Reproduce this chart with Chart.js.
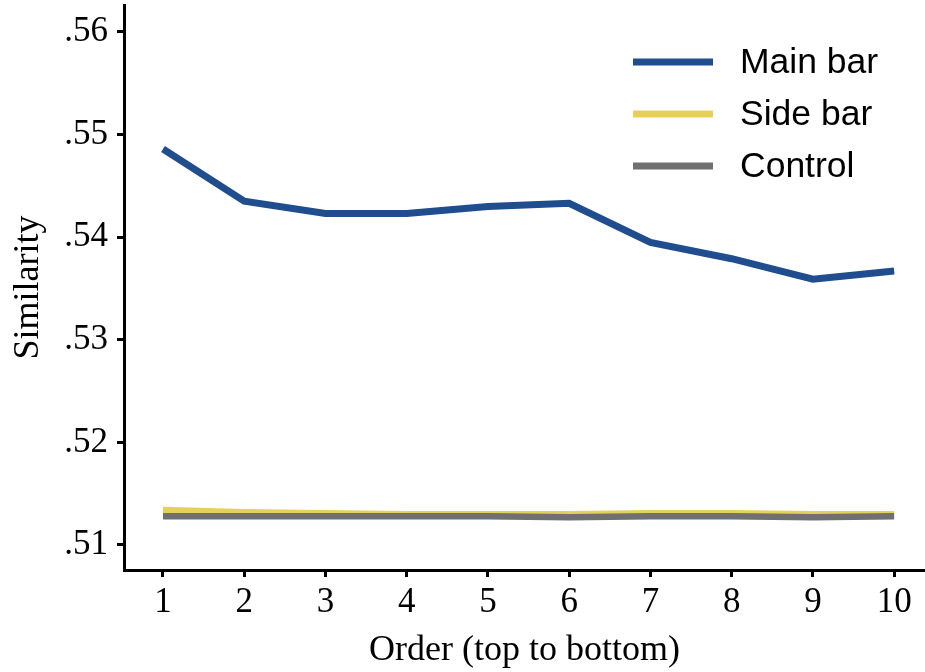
<!DOCTYPE html>
<html>
<head>
<meta charset="utf-8">
<script src="https://cdn.jsdelivr.net/npm/chart.js@4.4.0/dist/chart.umd.min.js"></script>
<style>
  html, body { margin: 0; padding: 0; background: #fff; }
  #wrap { width: 925px; height: 672px; }
</style>
</head>
<body>
<div id="wrap"><canvas id="lineChart" width="925" height="672"></canvas></div>
<script>
const orders = [1, 2, 3, 4, 5, 6, 7, 8, 9, 10];
const mainBar = [0.5486, 0.5435, 0.5423, 0.5423, 0.5430, 0.5433, 0.5395, 0.5379, 0.5359, 0.5367];
const sideBar = [0.5134, 0.5132, 0.5131, 0.5130, 0.5130, 0.5130, 0.5131, 0.5131, 0.5130, 0.5130];
const control = [0.5128, 0.5128, 0.5128, 0.5128, 0.5128, 0.5127, 0.5128, 0.5128, 0.5127, 0.5128];
const yTicks = [0.51, 0.52, 0.53, 0.54, 0.55, 0.56];

Chart.defaults.color = '#000';

function toPoints(values) {
  return values.map((v, i) => ({ x: orders[i], y: v }));
}

// legend drawn inside the plot, top right
const insideLegend = {
  id: 'insideLegend',
  afterDraw(chart) {
    const ctx = chart.ctx;
    const x0 = chart.chartArea.right - 292;
    ctx.save();
    ctx.font = '35.5px "Liberation Sans", Arial, sans-serif';
    ctx.textBaseline = 'middle';
    ctx.fillStyle = '#000';
    chart.data.datasets.forEach((ds, i) => {
      const y = 62 + i * 52;
      ctx.strokeStyle = ds.borderColor;
      ctx.lineWidth = 7;
      ctx.beginPath();
      ctx.moveTo(x0, y);
      ctx.lineTo(x0 + 80, y);
      ctx.stroke();
      ctx.fillText(ds.label, x0 + 107, y + 1);
    });
    ctx.restore();
  }
};

const serif = '"Liberation Serif", "Times New Roman", serif';

const ctx = document.getElementById('lineChart').getContext('2d');
new Chart(ctx, {
  type: 'line',
  data: {
    datasets: [
      { label: 'Main bar', data: toPoints(mainBar), borderColor: '#1f4d8e', borderWidth: 7, order: 0 },
      { label: 'Side bar', data: toPoints(sideBar), borderColor: '#e6d05a', borderWidth: 6.5, order: 2 },
      { label: 'Control', data: toPoints(control), borderColor: '#707070', borderWidth: 6.5, order: 1 }
    ]
  },
  options: {
    responsive: false,
    animation: false,
    layout: { padding: { top: 5, right: 0, left: 0, bottom: 0 } },
    elements: { point: { radius: 0 }, line: { tension: 0 } },
    plugins: { legend: { display: false }, tooltip: { enabled: false } },
    scales: {
      x: {
        type: 'linear',
        min: 0.52,
        max: 10.38,
        afterBuildTicks: s => { s.ticks = orders.map(v => ({ value: v })); },
        afterFit: s => { s.height = 102; s.paddingLeft = 0; s.paddingRight = 0; },
        border: { color: '#000', width: 3 },
        grid: { drawOnChartArea: false, color: '#000', tickLength: 7, tickWidth: 3 },
        ticks: {
          font: { family: serif, size: 35 },
          padding: 5,
          maxRotation: 0,
          autoSkip: false
        },
        title: {
          display: true,
          text: 'Order (top to bottom)',
          font: { family: serif, size: 36 },
          padding: { top: 0, bottom: 0 }
        }
      },
      y: {
        min: 0.50756,
        max: 0.56263,
        afterBuildTicks: s => { s.ticks = yTicks.map(v => ({ value: v })); },
        afterFit: s => { s.width = 124; s.paddingTop = 0; s.paddingBottom = 0; },
        border: { color: '#000', width: 3 },
        grid: { drawOnChartArea: false, color: '#000', tickLength: 7, tickWidth: 3 },
        ticks: {
          font: { family: serif, size: 35 },
          padding: 9,
          callback: v => v.toFixed(2).replace(/^0/, '')
        },
        title: {
          display: true,
          text: 'Similarity',
          font: { family: serif, size: 36 },
          padding: { top: 7, bottom: 0 }
        }
      }
    }
  },
  plugins: [insideLegend]
});
</script>
</body>
</html>
